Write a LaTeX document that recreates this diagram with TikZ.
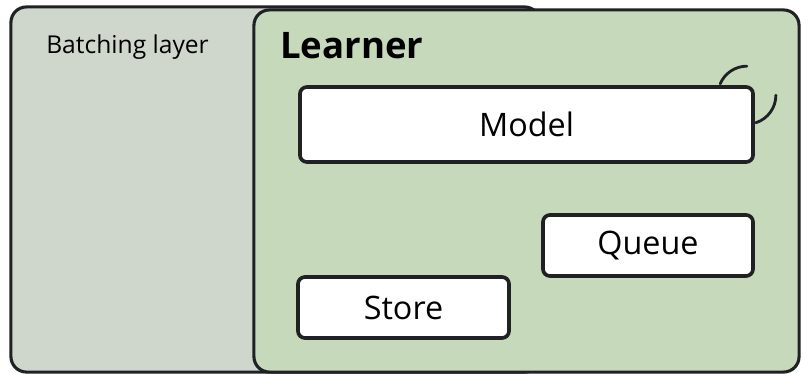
\documentclass[tikz,border=0pt]{standalone}
\usepackage{fontspec}
\setmainfont{Open Sans}
\usepackage{tikz}
\usetikzlibrary{positioning, calc}
\definecolor{batchfill}{RGB}{207,214,203}
\definecolor{learnfill}{RGB}{198,217,186}
\definecolor{edgedark}{RGB}{32,33,36}
\tikzset{
  layer/.style={
    rectangle, rounded corners=11pt, draw=edgedark,
    line width=2.2pt, inner sep=0pt
  },
  part/.style={
    rectangle, rounded corners=5pt, draw=edgedark, fill=white,
    line width=2.6pt, inner sep=0pt, font=\fontsize{23}{26}\selectfont
  },
  ttl/.style={anchor=west, inner sep=0pt},
  arcln/.style={draw=edgedark, line width=2pt, line cap=round}
}

\begin{document}
\begin{tikzpicture}[x=0.025cm, y=-0.025cm]
  \useasboundingbox (0,0) rectangle (808,374);

  % the two layers, the learner sits on top
  \node[layer, fill=batchfill, minimum width=13.225cm, minimum height=9.125cm]
        (batch) at (275.5,189.5) {};
  \node[layer, fill=learnfill, minimum width=13.625cm, minimum height=9.05cm]
        (learner) at (526.5,191) {};

  \node[ttl, font=\fontsize{17.5}{20}\selectfont] (batchlbl) at (46,47) {Batching layer};
  \node[ttl, font=\fontsize{26}{30}\selectfont\bfseries] (learnlbl) at (280,46) {Learner};

  % parts of the learner
  \node[part, minimum width=11.325cm, minimum height=1.875cm] (model) at (526.5,124.5) {Model};
  \node[part, minimum width=5.25cm, minimum height=1.525cm] (queue) at (648,245.5) {Queue};
  \node[part, minimum width=5.275cm, minimum height=1.525cm] (store) at (403.5,307.5) {Store};

  % little loop round the model corner
  \coordinate (loopc) at ($(model.north east)+(-8,10)$);
  \draw[arcln] ([shift={(90:0.725cm)}]loopc) arc[start angle=90, end angle=157, radius=0.725cm];
  \draw[arcln] ([shift={(-72:0.725cm)}]loopc) arc[start angle=-72, end angle=0, radius=0.725cm];
\end{tikzpicture}
\end{document}
